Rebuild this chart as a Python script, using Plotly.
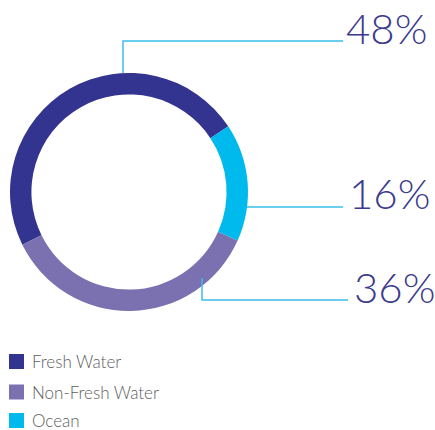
import plotly.graph_objects as go

# Water use breakdown
categories = ["Fresh Water", "Non-Fresh Water", "Ocean"]
shares = [48, 36, 16]
colors = ["#33348F", "#7B70B0", "#00BAEE"]

W, H = 435, 430
TEXT_COLOR = "#3B3A8E"
LINE_COLOR = "#3BBFEA"


def px(x):
    return x / W


def py(y):
    return 1 - y / H


# ring centre and outer radius in pixels
cx, cy, r = 129, 192, 119

fig = go.Figure(
    go.Pie(
        labels=categories,
        values=shares,
        sort=False,
        direction="counterclockwise",
        rotation=-116.3,
        hole=0.82,
        marker=dict(colors=colors, line=dict(width=0)),
        textinfo="none",
        hoverinfo="label+percent",
        showlegend=False,
        domain=dict(x=[px(cx - r), px(cx + r)], y=[py(cy + r), py(cy - r)]),
    )
)

# leader lines (pixel paths) and percentage callouts
leaders = {
    "Fresh Water": [(123, 73), (123, 41), (343, 41)],
    "Ocean": [(247, 207), (343, 207)],
    "Non-Fresh Water": [(202, 278), (202, 300), (348, 300)],
}
callout_pos = {
    "Fresh Water": (344, 28),
    "Ocean": (347, 193),
    "Non-Fresh Water": (352, 287),
}

shapes = []
annotations = []
for name, value in zip(categories, shares):
    pts = leaders[name]
    path = "M " + " L ".join(f"{px(x):.5f},{py(y):.5f}" for x, y in pts)
    shapes.append(dict(type="path", path=path, xref="paper", yref="paper",
                       line=dict(color=LINE_COLOR, width=1.5)))
    tx, ty = callout_pos[name]
    annotations.append(dict(
        text=f"{value}%", x=px(tx), y=py(ty), xref="paper", yref="paper",
        xanchor="left", yanchor="middle", showarrow=False,
        font=dict(family="Lato", size=42, color=TEXT_COLOR, weight=300),
    ))

# legend: coloured squares with labels
legend_y = [361.5, 392, 420.5]
for name, color, ly in zip(categories, colors, legend_y):
    shapes.append(dict(type="rect", xref="paper", yref="paper",
                       x0=px(9), x1=px(24), y0=py(ly + 7.5), y1=py(ly - 7.5),
                       fillcolor=color, line=dict(width=0)))
    annotations.append(dict(
        text=name, x=px(30), y=py(ly), xref="paper", yref="paper",
        xanchor="left", yanchor="middle", showarrow=False,
        font=dict(family="Lato", size=17, color="#5E5E5E", weight=300),
    ))

fig.update_layout(
    width=W, height=H,
    margin=dict(l=0, r=0, t=0, b=0),
    paper_bgcolor="white",
    plot_bgcolor="white",
    shapes=shapes,
    annotations=annotations,
)

fig.write_html("out.html")
